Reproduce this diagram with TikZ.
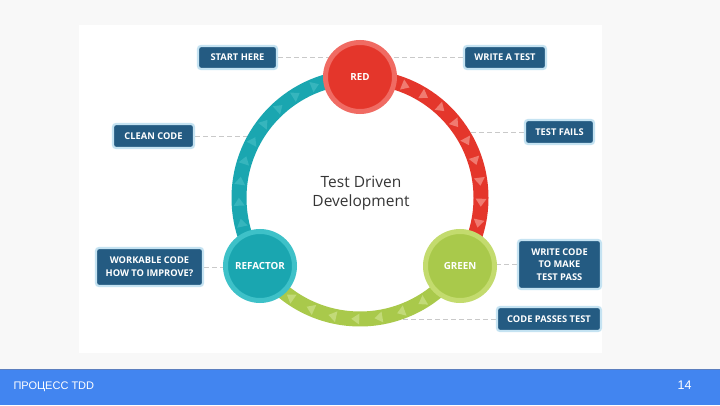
\documentclass[tikz,border=0pt]{standalone}
\usepackage{fontspec}
\setmainfont{Open Sans}
\newfontfamily\footfont{Liberation Sans}
\pgfdeclarelayer{back}
\pgfdeclarelayer{bg}
\pgfsetlayers{back,bg,main}
\definecolor{slidebg}{HTML}{F8F8F8}
\definecolor{barblue}{HTML}{4285F0}
\definecolor{barline}{HTML}{5C7FBF}
\definecolor{boxblue}{HTML}{245B82}
\definecolor{boxglow}{HTML}{C5E3F2}
\definecolor{redc}{HTML}{E4362B}
\definecolor{redb}{HTML}{F06B63}
\definecolor{redt}{HTML}{F07A70}
\definecolor{tealc}{HTML}{1AA6B0}
\definecolor{tealb}{HTML}{3EC1C8}
\definecolor{tealt}{HTML}{36B5BD}
\definecolor{greenc}{HTML}{A9C94B}
\definecolor{greenb}{HTML}{C3DB6E}
\definecolor{greent}{HTML}{C2DA78}
\definecolor{dashc}{HTML}{C9C9C9}
\definecolor{txt}{HTML}{363636}
\begin{document}
\begin{tikzpicture}[x=1pt,y=1pt,
  lbl/.style={draw=boxglow, line width=2.2pt, fill=boxblue, rounded corners=3pt,
    text=white, font=\bfseries\fontsize{9.3}{12.8}\selectfont, align=center, inner sep=0pt},
  stage/.style={circle, fill=#1c, draw=#1b, line width=5pt, minimum size=69pt,
    inner sep=0pt, text=white, font=\bfseries\fontsize{9.8}{11}\selectfont},
  conn/.style={draw=dashc, line width=0.8pt, dash pattern=on 5pt off 3pt},
  band/.style={line width=15pt},
  tri/.style={fill=#1},
]
\useasboundingbox (0,0) rectangle (720,405);
\begin{pgfonlayer}{back}
\fill[slidebg] (0,0) rectangle (720,405);
\fill[white] (79,52) rectangle (602,380);
\fill[barblue] (0,0) rectangle (720,36);
\fill[barline] (0,35) rectangle (720,36.5);
\end{pgfonlayer}

\node[anchor=west, text=white, font=\footfont\fontsize{11}{12}\selectfont] (foot) at (10,18) {ПРОЦЕСС TDD};
\node[anchor=east, text=white, font=\footfont\fontsize{12.5}{14}\selectfont] (page) at (695,20) {14};

\coordinate (ring) at (360,207);
\node[stage=red] (red) at (360,328) {RED};
\node[stage=teal] (refactor) at (260,139) {REFACTOR};
\node[stage=green] (green) at (460,139) {GREEN};

\node[lbl, minimum width=79pt, minimum height=23pt] (start) at (237.5,347.5) {START HERE};
\node[lbl, minimum width=82pt, minimum height=23pt] (write) at (505,347.5) {WRITE A TEST};
\node[lbl, minimum width=81pt, minimum height=24pt] (clean) at (153.5,269) {CLEAN CODE};
\node[lbl, minimum width=69pt, minimum height=24pt] (fails) at (559.5,273) {TEST FAILS};
\node[lbl, minimum width=107pt, minimum height=38pt] (work) at (149.5,138) {WORKABLE CODE\\HOW TO IMPROVE?};
\node[lbl, minimum width=83pt, minimum height=49pt] (wcode) at (559.5,140.5) {WRITE CODE\\TO MAKE\\TEST PASS};
\node[lbl, minimum width=104pt, minimum height=24pt] (cpass) at (549,86) {CODE PASSES TEST};

\node[text=txt, font=\fontsize{15.5}{19.5}\selectfont, align=center] (title) at (361,212) {Test Driven\\Development};

\coordinate (cleanP) at ([shift={(ring)}]149.2:118);
\coordinate (failsP) at ([shift={(ring)}]33:118);
\coordinate (cpassP) at (392,86);

\begin{pgfonlayer}{bg}
  \draw[conn] (start.east) -- (start.east -| red.center);
  \draw[conn] (write.west) -- (write.west -| red.center);
  \draw[conn] (clean.east) -- (clean.east -| cleanP);
  \draw[conn] (fails.west) -- (fails.west -| failsP);
  \draw[conn] (work.east) -- (work.east -| refactor.center);
  \draw[conn] (wcode.west) -- (wcode.west -| green.center);
  \draw[conn] (cpass.west) -- (cpass.west -| cpassP);
  \draw[band, tealc] (red.center) arc[start angle=90, end angle=214.2, radius=121];
  \draw[band, redc] (red.center) arc[start angle=90, end angle=-34.2, radius=121];
  \draw[band, greenc] (green.center) arc[start angle=-34.2, end angle=-145.8, radius=121];
  \foreach \a in {78,68,58,48,38,28,18,8,-2,-12,-22}
    \fill[tri=redt, shift={(360,207)}, rotate=\a] (115.5,3.5) -- (126.5,3.5) -- (121,-4.5) -- cycle;
  \foreach \a in {202,192,182,172,162,152,142,132,122,112,102}
    \fill[tri=tealt, shift={(360,207)}, rotate=\a] (115.5,3.5) -- (126.5,3.5) -- (121,-4.5) -- cycle;
  \foreach \a in {-48,-59,-70,-81,-92,-103,-114,-125,-136}
    \fill[tri=greent, shift={(360,207)}, rotate=\a] (115.5,3.5) -- (126.5,3.5) -- (121,-4.5) -- cycle;
\end{pgfonlayer}
\end{tikzpicture}
\end{document}
